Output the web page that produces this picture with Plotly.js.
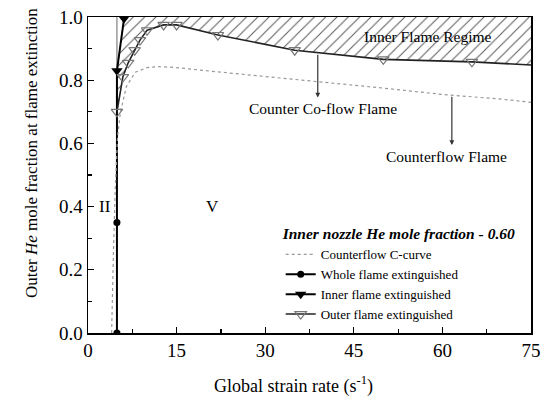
<!DOCTYPE html>
<html>
<head>
<meta charset="utf-8">
<script src="https://cdn.plot.ly/plotly-3.0.1.min.js"></script>
<style>html,body{margin:0;padding:0;background:#fff;}#chart{width:549px;height:400px;}</style>
</head>
<body>
<div id="chart"></div>
<script>
// ---- data ----
const cCurveX = [4.0, 4.1, 4.3, 4.6, 5.0, 5.5, 6.5, 8, 10, 12, 15, 20, 30, 40, 50, 60, 70, 75];
const cCurveY = [0.0, 0.1, 0.25, 0.45, 0.62, 0.70, 0.78, 0.825, 0.84, 0.843, 0.84, 0.83, 0.812, 0.795, 0.775, 0.755, 0.74, 0.73];

const wholeX = [4.9, 4.9];
const wholeY = [0.0, 0.35];

const innerX = [4.9, 6.1];
const innerY = [0.83, 0.995];

const outerX = [4.9, 5.9, 6.8, 7.9, 8.8, 10.0, 12.8, 15.0, 22, 35, 50, 65, 80];
const outerY = [0.70, 0.81, 0.855, 0.895, 0.927, 0.958, 0.975, 0.975, 0.943, 0.895, 0.866, 0.858, 0.843];

const xTicks = [0, 15, 30, 45, 60, 75];
const yTicks = [0.0, 0.2, 0.4, 0.6, 0.8, 1.0];
const yTop = 1.0;

const serif = "'Liberation Serif', 'Times New Roman', serif";

// hatched region: above the outer-flame curve, below 1.0, right of the inner-flame line
const regionX = outerX.concat([outerX[outerX.length-1], innerX[1], innerX[0]]);
const regionY = outerY.concat([yTop, yTop, innerY[0]]);

const traces = [
  {x: regionX, y: regionY, type: 'scatter', mode: 'lines', fill: 'toself',
   line: {width: 0}, fillcolor: 'rgba(0,0,0,0)',
   fillpattern: {shape: '/', fgcolor: '#555', bgcolor: 'white', size: 8, solidity: 0.12},
   showlegend: false, hoverinfo: 'skip'},
  {x: [outerX[0], outerX[0]], y: [outerY[0], yTop], type: 'scatter', mode: 'lines',
   line: {color: '#666', width: 1}, showlegend: false, hoverinfo: 'skip'},
  {x: [wholeX[1], innerX[0]], y: [wholeY[1], innerY[0]], type: 'scatter', mode: 'lines',
   line: {color: 'black', width: 2}, showlegend: false, hoverinfo: 'skip'},
  {x: cCurveX, y: cCurveY, type: 'scatter', mode: 'lines', name: 'Counterflow C-curve',
   line: {color: '#999', width: 1.2, dash: 'dot'}},
  {x: wholeX, y: wholeY, type: 'scatter', mode: 'lines+markers', name: 'Whole flame extinguished',
   line: {color: 'black', width: 2}, marker: {symbol: 'circle', size: 7, color: 'black'}},
  {x: innerX, y: innerY, type: 'scatter', mode: 'lines+markers', name: 'Inner flame extinguished',
   line: {color: 'black', width: 2}, marker: {symbol: 'triangle-down', size: 10, color: 'black'}},
  {x: outerX, y: outerY, type: 'scatter', mode: 'lines+markers', name: 'Outer flame extinguished',
   line: {color: '#222', width: 1.6},
   marker: {symbol: 'triangle-down-open', size: 10, color: '#777', line: {width: 1.2}}}
];

const layout = {
  width: 549, height: 400,
  margin: {l: 88, r: 18, t: 17, b: 67},
  paper_bgcolor: 'white', plot_bgcolor: 'white',
  font: {family: serif, size: 16, color: 'black'},
  showlegend: true,
  legend: {
    x: 0.435, y: 0.36, xanchor: 'left', yanchor: 'top',
    bgcolor: 'rgba(0,0,0,0)',
    font: {family: serif, size: 13, color: 'black'},
    title: {text: 'Inner nozzle He mole fraction - 0.60', side: 'top',
            font: {family: serif, size: 15.5, weight: 'bold', style: 'italic', color: 'black'}},
    tracegroupgap: 0, itemwidth: 30
  },
  xaxis: {
    range: [0, 75], tickvals: xTicks, ticktext: xTicks.map(String),
    ticks: 'inside', ticklen: 6, tickwidth: 1.2, tickcolor: 'black',
    minor: {dtick: 7.5, ticks: 'inside', ticklen: 4, tickcolor: 'black'},
    showline: true, linecolor: 'black', linewidth: 1.5, mirror: true,
    showgrid: false, zeroline: false,
    tickfont: {family: serif, size: 19}
  },
  yaxis: {
    range: [0, 1.0], tickvals: yTicks, ticktext: yTicks.map(v => v.toFixed(1)),
    ticks: 'inside', ticklen: 6, tickwidth: 1.2, tickcolor: 'black',
    minor: {dtick: 0.1, ticks: 'inside', ticklen: 4, tickcolor: 'black'},
    showline: true, linecolor: 'black', linewidth: 1.5, mirror: true,
    showgrid: false, zeroline: false,
    tickfont: {family: serif, size: 19}
  },
  annotations: [
    {xref: 'paper', yref: 'paper', x: -0.152, y: 0.57, textangle: -90, showarrow: false,
     text: 'Outer <i>He</i> mole fraction at flame extinction', font: {family: serif, size: 17}},
    {xref: 'paper', yref: 'paper', x: 0.465, y: -0.165, yanchor: 'middle', showarrow: false,
     text: 'Global strain rate (s<sup>-1</sup>)', font: {family: serif, size: 18}},
    {xref: 'paper', yref: 'paper', x: 0.47, y: -0.285, yanchor: 'top', showarrow: false,
     text: '(a) Inner nozzle He mole fraction = 0.60', font: {family: serif, size: 20}},
    {x: 57.5, y: 0.937, showarrow: false, text: 'Inner Flame Regime', font: {family: serif, size: 15.5}},
    {x: 39.8, y: 0.712, showarrow: false, text: 'Counter Co-flow Flame', font: {family: serif, size: 15.5}},
    {x: 60.7, y: 0.557, showarrow: false, text: 'Counterflow Flame', font: {family: serif, size: 15.5}},
    {x: 38.9, y: 0.745, ax: 38.9, ay: 0.885, axref: 'x', ayref: 'y', showarrow: true,
     arrowhead: 2, arrowsize: 0.8, arrowwidth: 1.2, arrowcolor: '#333', text: ''},
    {x: 61.6, y: 0.595, ax: 61.6, ay: 0.752, axref: 'x', ayref: 'y', showarrow: true,
     arrowhead: 2, arrowsize: 0.8, arrowwidth: 1.2, arrowcolor: '#333', text: ''},
    {x: 2.9, y: 0.4, showarrow: false, text: 'II', font: {family: serif, size: 17}},
    {x: 21, y: 0.4, showarrow: false, text: 'V', font: {family: serif, size: 17}}
  ]
};

Plotly.newPlot('chart', traces, layout, {displayModeBar: false, staticPlot: true});
</script>
</body>
</html>
